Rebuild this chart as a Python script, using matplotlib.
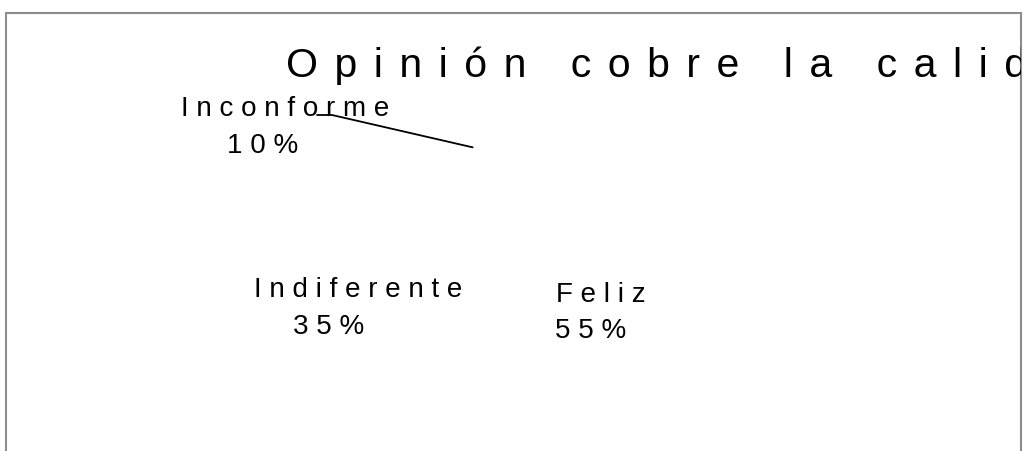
import matplotlib.pyplot as plt
import numpy as np

# datos de la encuesta
labels = ['Feliz', 'Indiferente', 'Inconforme']
values = [55, 35, 10]
title = 'Opinión cobre la calidad'

W, H = 1025, 451
plt.rcParams['font.family'] = ['Liberation Sans', 'DejaVu Sans']


def spaced(s, gap=' '):
    # letter spacing: matplotlib has none, so put a space between letters
    return gap.join(s)


fig = plt.figure(figsize=(W / 100, H / 100), dpi=100)

# invisible pie, drawn in pixel coordinates
ax = fig.add_axes([0, 0, 1, 1], zorder=0)
cx, cy, r = 519, 290, 150
wedges, _ = ax.pie(values, colors=['white'] * len(values), startangle=90,
                   counterclock=False, center=(cx, H - cy), radius=r,
                   wedgeprops=dict(linewidth=0))
ax.set_xlim(0, W)
ax.set_ylim(0, H)
ax.set_aspect('auto')
ax.axis('off')

# label positions (left edge, baseline) in pixels
name_pos = [(556, 302), (254, 297), (181, 116)]
pct_pos = [(555, 338), (293, 334), (227, 153)]
for lab, val, (nx, ny), (qx, qy) in zip(labels, values, name_pos, pct_pos):
    ax.text(nx, H - ny, spaced(lab), fontsize=20, ha='left', va='baseline')
    ax.text(qx, H - qy, spaced(f'{val}%'), fontsize=20, ha='left', va='baseline')

# leader line for the small slice
w = wedges[2]
mid = np.deg2rad((w.theta1 + w.theta2) / 2)
edge = (cx + r * np.cos(mid), H - cy + r * np.sin(mid))
start = (317, H - 115)
knee_x = 332
angB = np.degrees(np.arctan2(edge[1] - start[1], edge[0] - knee_x))
ax.annotate('', xy=edge, xytext=start,
            arrowprops=dict(arrowstyle='-', color='black', lw=1.3,
                            shrinkA=0, shrinkB=0,
                            connectionstyle=f'angle,angleA=0,angleB={angB},rad=0'))

# frame with open bottom
frame = fig.add_axes([6 / W, 0, (1021 - 6) / W, (H - 13) / H], zorder=1)
frame.patch.set_alpha(0)
frame.set_xticks([])
frame.set_yticks([])
for side in ['left', 'top', 'right']:
    frame.spines[side].set_color('#8c8c8c')
    frame.spines[side].set_linewidth(1.5)
frame.spines['bottom'].set_visible(False)

frame.text(286 / W, 1 - 77 / H, spaced(title, '\u2009\u2009'), fontsize=29.5,
           ha='left', va='baseline', transform=fig.transFigure, clip_on=True)

fig.savefig('out.png', dpi=100)
